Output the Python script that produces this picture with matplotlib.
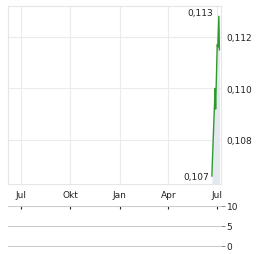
import numpy as np
import pandas as pd
import matplotlib
matplotlib.use("Agg")
from matplotlib import pyplot as plt

# price series
dates = pd.to_datetime(["2025-06-21", "2025-06-27", "2025-06-28", "2025-07-01",
                        "2025-07-02", "2025-07-04", "2025-07-05"])
prices = [0.1066, 0.1100, 0.1092, 0.1117, 0.1116, 0.1128, 0.1115]

month_ticks = pd.to_datetime(["2024-07-01", "2024-10-01", "2025-01-01", "2025-04-01", "2025-07-01"])
month_labels = ["Jul", "Okt", "Jan", "Apr", "Jul"]
price_ticks = [0.108, 0.110, 0.112]
price_labels = ["0,108", "0,110", "0,112"]
vol_ticks = [0, 5, 10]
vol_labels = ["0", "5", "10"]
hi_label = "0,113"
lo_label = "0,107"

plt.rcParams['font.family'] = ['DejaVu Sans']
W, H = 264, 255
fig = plt.figure(figsize=(W / 100, H / 100), dpi=100)

xmin = pd.Timestamp("2024-06-07")
xmax = pd.Timestamp("2025-07-08")

# main price panel
ax = fig.add_axes([8 / W, (H - 185) / H, 213 / W, 178 / H])
ax.set_xlim(xmin, xmax)
ax.set_ylim(0.10629, 0.11320)
ax.fill_between(dates, prices, 0.10629, color="#e4e9ef", lw=0, zorder=1)
ax.plot(dates, prices, color="#2e9a2e", lw=1.0, zorder=3)
ax.set_xticks(month_ticks)
ax.set_xticklabels(month_labels)
ax.set_yticks(price_ticks)
ax.set_yticklabels(price_labels)
ax.yaxis.tick_right()
ax.tick_params(axis="both", length=0, labelsize=6.5, colors="#222222")
ax.tick_params(axis="y", pad=4)
ax.tick_params(axis="x", pad=4.5)
ax.grid(True, color="#ebebeb", lw=0.8)
ax.set_axisbelow(True)
for s in ax.spines.values():
    s.set_color("#e6e6e6")
    s.set_linewidth(0.8)

imax = int(np.argmax(prices))
imin = int(np.argmin(prices))
ax.text(dates[imax] - pd.Timedelta(days=11), 0.11293, hi_label, ha="right", va="center",
        fontsize=6.5, color="#222222")
ax.text(dates[imin] - pd.Timedelta(days=6), 0.10660, lo_label, ha="right", va="center",
        fontsize=6.5, color="#222222")

# volume panel (empty)
vax = fig.add_axes([8 / W, (H - 248) / H, 213 / W, 41 / H])
vax.set_xlim(xmin, xmax)
vax.set_ylim(-0.25, 10)
vax.set_yticks(vol_ticks)
vax.set_yticklabels(vol_labels)
vax.yaxis.tick_right()
vax.tick_params(axis="y", length=3, width=0.7, color="#888888", labelsize=6.5,
                labelcolor="#222222", pad=1)
vax.set_xticks(month_ticks)
vax.xaxis.tick_top()
vax.tick_params(axis="x", length=2, width=0.8, color="#222222", direction="in",
                labeltop=False, labelbottom=False)
vax.grid(True, axis="y", color="#cccccc", lw=0.8)
for s in vax.spines.values():
    s.set_visible(False)

fig.savefig("out.png", dpi=100)
